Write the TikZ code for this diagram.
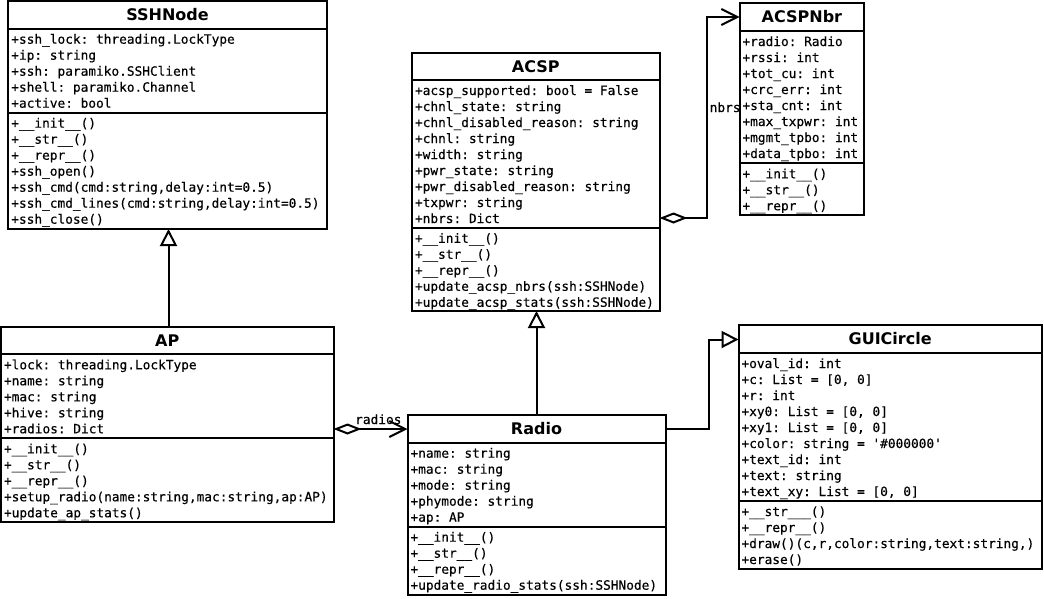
\documentclass[tikz,border=0pt]{standalone}
\usepackage{fontspec}
\setmainfont{DejaVu Sans}
\newfontfamily\monof{DejaVu Sans Mono}[FakeBold=0.4]
\usetikzlibrary{arrows.meta}
\tikzset{
  classbox/.style={draw, line width=2pt, fill=white, inner sep=0pt, outer sep=0pt, anchor=north west},
  divider/.style={line width=2pt},
  mono/.style={font=\monof\frenchspacing\fontsize{12.8}{16}\selectfont, inner sep=0pt, anchor=base west},
  ctitle/.style={font=\bfseries\fontsize{16}{19}\selectfont, inner sep=0pt, anchor=base},
  conn/.style={line width=2pt},
  gen/.style={conn, -{Triangle[open, length=17pt, width=17pt]}},
  agg/.style={conn, {Diamond[open, length=28pt, width=11pt]}-{Straight Barb[length=16pt, width=16pt]}},
}
% name, left, top, right, title divider, attribute divider, bottom, title
\newcommand\umlclass[8]{%
  \node[classbox, minimum width={#4-#2}, minimum height={#7-#3}] (#1) at (#2,#3) {};
  \draw[divider] (#2,#5) -- (#4,#5);
  \draw[divider] (#2,#6) -- (#4,#6);
  \node[ctitle] (#1-title) at ({(#2+#4)/2},{(#3+#5)/2+5.8}) {#8};
}
% prefix, left, divider above, list of lines
\newcommand\clines[4]{%
  \foreach \t [count=\i from 0] in {#4}
    \node[mono] (#1\i) at ({#2+2.8},{#3+15+16*\i}) {\t};
}
\begin{document}
\begin{tikzpicture}[x=1pt, y=-1pt]
\useasboundingbox (0,0) rectangle (1044,598);
\fill[white] (0,0) rectangle (1044,598);

% SSHNode
\umlclass{ssh}{8.3}{1}{326.7}{28.7}{112.7}{229}{SSHNode}
\clines{ssh-a}{8.3}{28.7}{{+ssh\_lock: threading.LockType},{+ip: string},{+ssh: paramiko.SSHClient},{+shell: paramiko.Channel},{+active: bool}}
\clines{ssh-m}{8.3}{112.7}{{+\_\_init\_\_()},{+\_\_str\_\_()},{+\_\_repr\_\_()},{+ssh\_open()},{+ssh\_cmd(cmd:string,delay:int=0.5)},{+ssh\_cmd\_lines(cmd:string,delay:int=0.5)},{+ssh\_close()}}

% ACSPNbr
\umlclass{nbr}{739.5}{3.3}{864.3}{31}{163.3}{214.5}{ACSPNbr}
\clines{nbr-a}{739.5}{31}{{+radio: Radio},{+rssi: int},{+tot\_cu: int},{+crc\_err: int},{+sta\_cnt: int},{+max\_txpwr: int},{+mgmt\_tpbo: int},{+data\_tpbo: int}}
\clines{nbr-m}{739.5}{163.3}{{+\_\_init\_\_()},{+\_\_str\_\_()},{+\_\_repr\_\_()}}

% ACSP
\umlclass{acsp}{412}{52.7}{659.5}{80}{227.8}{311}{ACSP}
\clines{acsp-a}{412}{80}{{+acsp\_supported: bool = False},{+chnl\_state: string},{+chnl\_disabled\_reason: string},{+chnl: string},{+width: string},{+pwr\_state: string},{+pwr\_disabled\_reason: string},{+txpwr: string},{+nbrs: Dict}}
\clines{acsp-m}{412}{227.8}{{+\_\_init\_\_()},{+\_\_str\_\_()},{+\_\_repr\_\_()},{+update\_acsp\_nbrs(ssh:SSHNode)},{+update\_acsp\_stats(ssh:SSHNode)}}

% AP
\umlclass{ap}{1}{327}{333.5}{354.3}{438.3}{522.3}{AP}
\clines{ap-a}{1}{354.3}{{+lock: threading.LockType},{+name: string},{+mac: string},{+hive: string},{+radios: Dict}}
\clines{ap-m}{1}{438.3}{{+\_\_init\_\_()},{+\_\_str\_\_()},{+\_\_repr\_\_()},{+setup\_radio(name:string,mac:string,ap:AP)},{+update\_ap\_stats()}}

% Radio
\umlclass{radio}{407.5}{415}{665.5}{442.7}{526.7}{595}{Radio}
\clines{radio-a}{407.5}{442.7}{{+name: string},{+mac: string},{+mode: string},{+phymode: string},{+ap: AP}}
\clines{radio-m}{407.5}{526.7}{{+\_\_init\_\_()},{+\_\_str\_\_()},{+\_\_repr\_\_()},{+update\_radio\_stats(ssh:SSHNode)}}

% GUICircle
\umlclass{gui}{738.5}{325}{1041.8}{353}{501}{568.5}{GUICircle}
\clines{gui-a}{738.5}{353}{{+oval\_id: int},{+c: List = [0, 0]},{+r: int},{+xy0: List = [0, 0]},{+xy1: List = [0, 0]},{+color: string = \textquotesingle\#000000\textquotesingle},{+text\_id: int},{+text: string},{+text\_xy: List = [0, 0]}}
\clines{gui-m}{738.5}{501}{{+\_\_str\_\_\_()},{+\_\_repr\_\_()},{+draw()(c,r,color:string,text:string,)},{+erase()}}

% connectors
\coordinate (c1) at (168.5,0);
\coordinate (c2) at (536.5,0);
\coordinate (c3) at (709,428.5);
\coordinate (c4) at (709,339.5);
\coordinate (c5) at (0,429);
\coordinate (c6) at (707,218);
\coordinate (c7) at (707,17);

\draw[gen] (ap.north -| c1) -- (ssh.south -| c1);
\draw[gen] (radio.north -| c2) -- (acsp.south -| c2);
\draw[gen] (radio.east |- c3) -- (c3) -- (c4) -- (gui.west |- c4);
\draw[agg] (ap.east |- c5) -- (radio.west |- c5);
\draw[agg] (acsp.east |- c6) -- (c6) -- (c7) -- (nbr.west |- c7);

\node[mono] (lnbrs) at (709.5,112) {nbrs};
\node[mono] (lradios) at (355,424) {radios};
\end{tikzpicture}
\end{document}
